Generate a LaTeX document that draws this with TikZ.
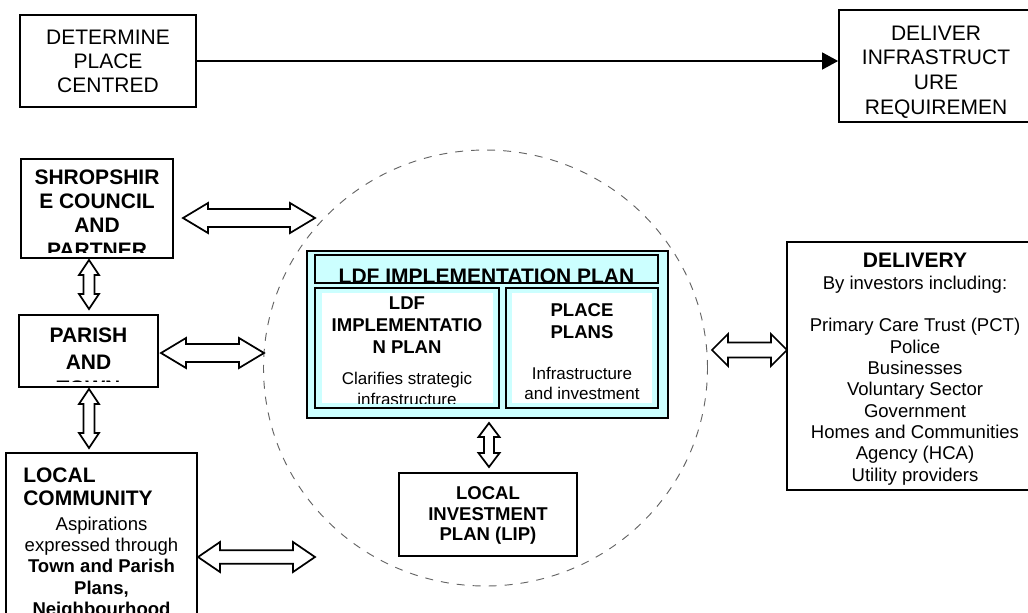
\documentclass[tikz,border=0pt]{standalone}
\usepackage{fontspec}
\setmainfont{Liberation Sans}
\usetikzlibrary{calc,fit,arrows.meta,shapes.geometric}

\definecolor{planfill}{RGB}{204,255,255}
\definecolor{ringgrey}{RGB}{100,100,100}

% hollow two-way block arrow: from, to, head length, head half width, shaft half width
\newcommand{\twoway}[5]{%
  \draw[blockarrow] (#1)
    -- ($(#1)!#3!(#2)!#4!90:(#2)$) -- ($(#1)!#3!(#2)!#5!90:(#2)$)
    -- ($(#2)!#3!(#1)!#5!-90:(#1)$) -- ($(#2)!#3!(#1)!#4!-90:(#1)$)
    -- (#2)
    -- ($(#2)!#3!(#1)!#4!90:(#1)$) -- ($(#2)!#3!(#1)!#5!90:(#1)$)
    -- ($(#1)!#3!(#2)!#5!-90:(#2)$) -- ($(#1)!#3!(#2)!#4!-90:(#2)$)
    -- cycle;}

\tikzset{
  boxline/.style={draw, line width=1.3pt, inner sep=0pt},
  planbox/.style={boxline, fill=planfill},
  blockarrow/.style={draw, fill=white, line width=1.3pt, line join=miter},
  ring/.style={ellipse, draw=ringgrey, dash pattern=on 6pt off 6pt, line width=0.7pt, inner sep=0pt},
  toptxt/.style={font=\fontsize{15.75pt}{18pt}\selectfont, align=center, inner sep=0pt},
  headtxt/.style={font=\bfseries\fontsize{15.75pt}{18.2pt}\selectfont, align=center, inner sep=0pt},
  midhead/.style={font=\bfseries\fontsize{13.9pt}{16.4pt}\selectfont, align=center, inner sep=0pt},
  bodytxt/.style={font=\fontsize{13.9pt}{16pt}\selectfont, align=center, inner sep=0pt},
  smalltxt/.style={font=\fontsize{12.75pt}{15.5pt}\selectfont, align=center, inner sep=0pt}
}

\begin{document}
\begin{tikzpicture}[x=0.75pt, y=-0.75pt]
\clip (0,0) rectangle (1028,612);

% dashed ring round the plans
\node[ring, minimum width=333pt, minimum height=327pt] (ring) at (485.5,368) {};

% top row
\node[boxline, fit={(20,15) (196,107)}] (det) {};
\node[toptxt, anchor=north] (dettxt) at (108,29.5) {DETERMINE\\PLACE\\CENTRED};
\node[boxline, fit={(839,10) (1033,122)}] (infra) {};
\node[toptxt, font=\fontsize{15.75pt}{18.5pt}\selectfont, anchor=north] (infratxt) at (936,25.5)
  {DELIVER\\INFRASTRUCT\\URE\\REQUIREMEN};
\draw[line width=1.1pt, -{Triangle[length=12pt, width=12.75pt]}] (det.east) -- (det.east -| infra.west);

% left column
\node[boxline, fit={(21,159) (173,258)}] (shrop) {};
\begin{scope}
  \clip (shrop.north west) rectangle ([yshift=5pt]shrop.south east);
  \node[headtxt, anchor=north] (shroptxt) at (97,169.5) {SHROPSHIR\\E COUNCIL\\AND\\PARTNER};
\end{scope}
\node[boxline, fit={(19,315) (158,387)}] (parish) {};
\begin{scope}
  \clip (parish.north west) rectangle ([yshift=5pt]parish.south east);
  \node[headtxt, font=\bfseries\fontsize{15.75pt}{20pt}\selectfont, anchor=north] (parishtxt) at (88.5,327.5)
    {PARISH\\AND\\TOWN};
\end{scope}
\node[boxline, fit={(6,453) (197,640)}] (comm) {};
\node[headtxt, align=left, font=\bfseries\fontsize{15.75pt}{17.3pt}\selectfont, anchor=north west] (commhead) at (23,467.5)
  {LOCAL\\COMMUNITY};
\node[bodytxt, anchor=north] (commbody) at (101.5,516.4)
  {Aspirations\\expressed through\\\textbf{Town and Parish}\\\textbf{Plans,}\\\textbf{Neighbourhood}};

% centre: implementation plan
\node[planbox, fit={(307,251) (668,418)}] (ldf) {};
\node[planbox, fit={(315,255) (658,283)}] (ldftitle) {};
\begin{scope}
  \clip (ldftitle.north west) rectangle ([yshift=1.5pt]ldftitle.south east);
  \node[headtxt, anchor=north] (ldftitletxt) at (486.5,268.5) {LDF IMPLEMENTATION PLAN};
\end{scope}
\node[planbox, fit={(315,288) (499,408)}] (ldfimp) {};
\node[fill=white, inner sep=0pt, fit={(322,293) (493,403)}] (ldfimpin) {};
\node[midhead, anchor=north] (ldfimphead) at (407,296.4) {LDF\\IMPLEMENTATIO\\N PLAN};
\begin{scope}
  \clip (ldfimpin.north west) rectangle (ldfimpin.south east);
  \node[smalltxt, anchor=north] (ldfimpbody) at (407,371.9) {Clarifies strategic\\infrastructure};
\end{scope}
\node[planbox, fit={(506,288) (658,408)}] (place) {};
\node[fill=white, inner sep=0pt, fit={(512,293) (652,403)}] (placein) {};
\node[midhead, anchor=north] (placehead) at (582,303.4) {PLACE\\PLANS};
\node[smalltxt, font=\fontsize{12.75pt}{15pt}\selectfont, anchor=north] (placebody) at (582,366.9)
  {Infrastructure\\and investment};
\node[boxline, fit={(399,473) (577,556)}] (lip) {};
\node[midhead, font=\bfseries\fontsize{13.9pt}{15.4pt}\selectfont, anchor=north] (liptxt) at (488,486.4)
  {LOCAL\\INVESTMENT\\PLAN (LIP)};

% delivery
\node[boxline, fit={(787,242) (1043,490)}] (dlv) {};
\node[headtxt, anchor=north] (dlvhead) at (915,252.5) {DELIVERY};
\node[bodytxt, anchor=north] (dlvbody) at (915,275.4)
  {By investors including:\\[16pt]Primary Care Trust (PCT)\\Police\\Businesses\\Voluntary Sector\\Government\\Homes and Communities\\Agency (HCA)\\Utility providers};

% arrow ends
\coordinate (shropR) at (183,218);
\coordinate (ringS) at (315,218);
\coordinate (parishR) at (161,353);
\coordinate (ringP) at (264,353);
\coordinate (commR) at (198,557);
\coordinate (ringC) at (315,557);
\coordinate (ringD) at (712,350);
\coordinate (dlvL) at (787,350);
\coordinate (shropB) at (89,260);
\coordinate (parishT) at (89,309);
\coordinate (parishB) at (89,389);
\coordinate (commT) at (89,448);
\coordinate (ldfB) at (489,423);
\coordinate (lipT) at (489,467);

\twoway{shropR}{ringS}{18.75pt}{11.25pt}{6.75pt}
\twoway{parishR}{ringP}{18.75pt}{11.25pt}{6.75pt}
\twoway{commR}{ringC}{16.5pt}{11.25pt}{5pt}
\twoway{ringD}{dlvL}{12pt}{12pt}{5.6pt}
\twoway{shropB}{parishT}{11.25pt}{7.5pt}{4.1pt}
\twoway{parishB}{commT}{11.25pt}{7.5pt}{4.1pt}
\twoway{ldfB}{lipT}{10.5pt}{7.9pt}{3.75pt}
\end{tikzpicture}
\end{document}
